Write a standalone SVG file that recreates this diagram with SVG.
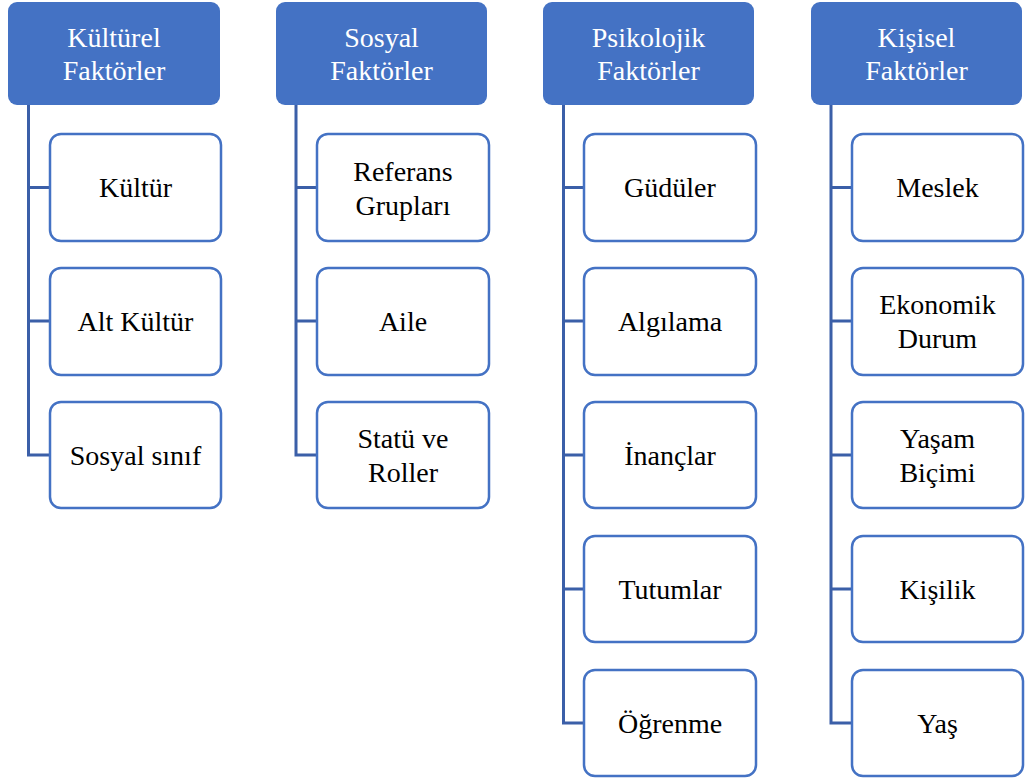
<svg xmlns="http://www.w3.org/2000/svg" width="1031" height="780" viewBox="0 0 1031 780">
  <style>
    text { font-family: "Liberation Serif", Tinos, "Times New Roman", Times, "Nimbus Roman", "DejaVu Serif", "Noto Serif", serif; }
    .head rect { fill: #4472C4; }
    .head text { fill: #FFFFFF; font-size: 28px; text-anchor: middle; }
    .item rect { fill: #FFFFFF; stroke: #4472C4; stroke-width: 2.5; }
    .item text { fill: #000000; font-size: 28px; text-anchor: middle; }
    .links path { fill: none; stroke: #3B5FA8; stroke-width: 3; }
  </style>
  <rect width="1031" height="780" fill="#FFFFFF"/>

  <!-- tree connectors: trunk down from each header, branch to each item -->
  <g id="connectors" class="links">
    <path d="M28.5,105 V455 H50 M28.5,187.5 H50 M28.5,321 H50"/>
    <path d="M296,105 V455 H317 M296,187.5 H317 M296,321 H317"/>
    <path d="M563.5,105 V723 H584 M563.5,187.5 H584 M563.5,321 H584 M563.5,455 H584 M563.5,589 H584"/>
    <path d="M831,105 V723 H852 M831,187.5 H852 M831,321 H852 M831,455 H852 M831,589 H852"/>
  </g>

  <!-- headers -->
  <g id="h-kulturel" class="head">
    <rect x="8" y="2" width="212" height="103" rx="9"/>
    <text x="114" y="47">Kültürel</text>
    <text x="114" y="80">Faktörler</text>
  </g>
  <g id="h-sosyal" class="head">
    <rect x="276" y="2" width="211" height="103" rx="9"/>
    <text x="381.5" y="47">Sosyal</text>
    <text x="381.5" y="80">Faktörler</text>
  </g>
  <g id="h-psikolojik" class="head">
    <rect x="543" y="2" width="211" height="103" rx="9"/>
    <text x="648.5" y="47">Psikolojik</text>
    <text x="648.5" y="80">Faktörler</text>
  </g>
  <g id="h-kisisel" class="head">
    <rect x="811" y="2" width="211" height="103" rx="9"/>
    <text x="916.5" y="47">Kişisel</text>
    <text x="916.5" y="80">Faktörler</text>
  </g>

  <!-- Kültürel items -->
  <g id="kultur" class="item">
    <rect x="50" y="134" width="171" height="107" rx="11"/>
    <text x="135.5" y="197">Kültür</text>
  </g>
  <g id="alt-kultur" class="item">
    <rect x="50" y="268" width="171" height="107" rx="11"/>
    <text x="135.5" y="331">Alt Kültür</text>
  </g>
  <g id="sosyal-sinif" class="item">
    <rect x="50" y="402" width="171" height="106" rx="11"/>
    <text x="135.5" y="465">Sosyal sınıf</text>
  </g>

  <!-- Sosyal items -->
  <g id="referans" class="item">
    <rect x="317" y="134" width="172" height="107" rx="11"/>
    <text x="403" y="181">Referans</text>
    <text x="403" y="215">Grupları</text>
  </g>
  <g id="aile" class="item">
    <rect x="317" y="268" width="172" height="107" rx="11"/>
    <text x="403" y="331">Aile</text>
  </g>
  <g id="statu" class="item">
    <rect x="317" y="402" width="172" height="106" rx="11"/>
    <text x="403" y="448">Statü ve</text>
    <text x="403" y="482">Roller</text>
  </g>

  <!-- Psikolojik items -->
  <g id="guduler" class="item">
    <rect x="584" y="134" width="172" height="107" rx="11"/>
    <text x="670" y="197">Güdüler</text>
  </g>
  <g id="algilama" class="item">
    <rect x="584" y="268" width="172" height="107" rx="11"/>
    <text x="670" y="331">Algılama</text>
  </g>
  <g id="inanclar" class="item">
    <rect x="584" y="402" width="172" height="106" rx="11"/>
    <text x="670" y="465">İnançlar</text>
  </g>
  <g id="tutumlar" class="item">
    <rect x="584" y="536" width="172" height="106" rx="11"/>
    <text x="670" y="599">Tutumlar</text>
  </g>
  <g id="ogrenme" class="item">
    <rect x="584" y="670" width="172" height="106" rx="11"/>
    <text x="670" y="733">Öğrenme</text>
  </g>

  <!-- Kişisel items -->
  <g id="meslek" class="item">
    <rect x="852" y="134" width="171" height="107" rx="11"/>
    <text x="937.5" y="197">Meslek</text>
  </g>
  <g id="ekonomik" class="item">
    <rect x="852" y="268" width="171" height="107" rx="11"/>
    <text x="937.5" y="314">Ekonomik</text>
    <text x="937.5" y="348">Durum</text>
  </g>
  <g id="yasam" class="item">
    <rect x="852" y="402" width="171" height="106" rx="11"/>
    <text x="937.5" y="448">Yaşam</text>
    <text x="937.5" y="482">Biçimi</text>
  </g>
  <g id="kisilik" class="item">
    <rect x="852" y="536" width="171" height="106" rx="11"/>
    <text x="937.5" y="599">Kişilik</text>
  </g>
  <g id="yas" class="item">
    <rect x="852" y="670" width="171" height="106" rx="11"/>
    <text x="937.5" y="733">Yaş</text>
  </g>
</svg>
